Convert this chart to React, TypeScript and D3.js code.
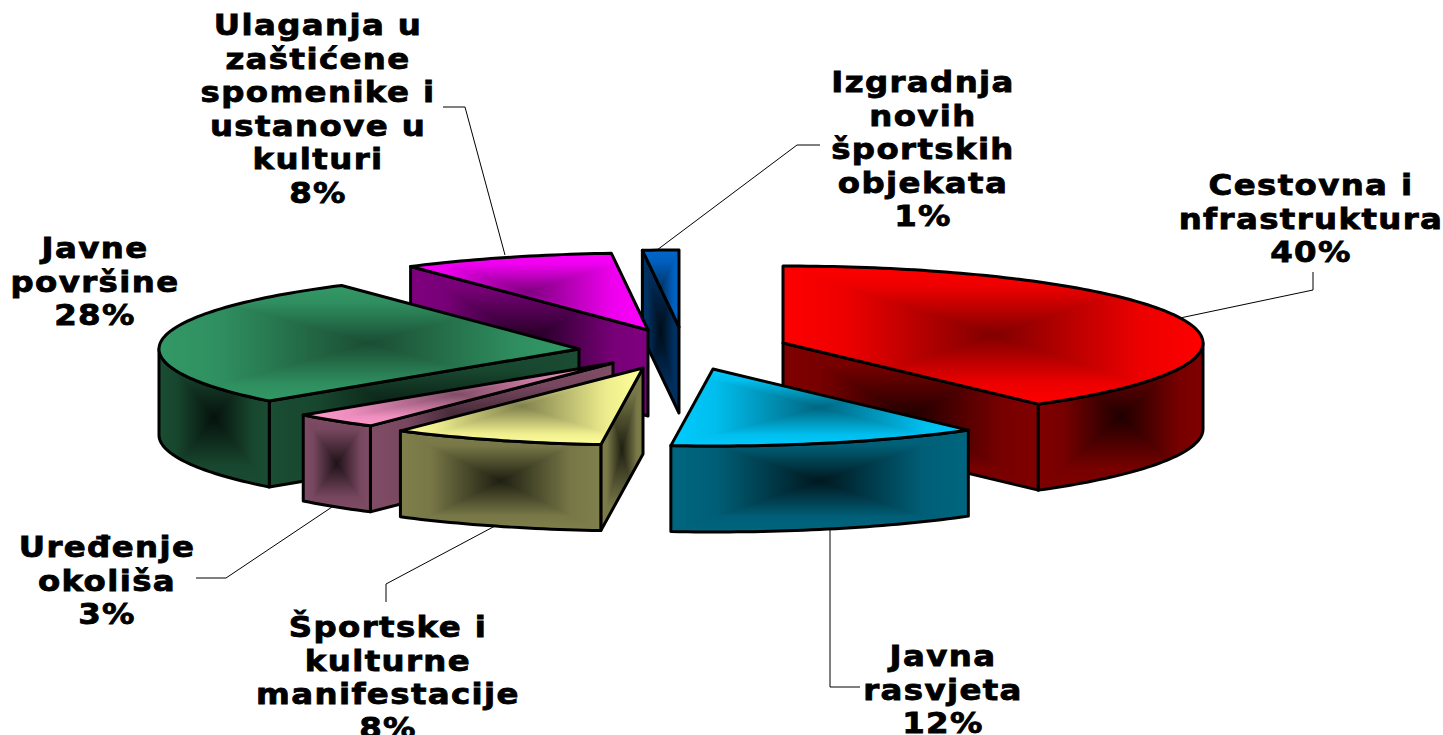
import React from "react";
import * as d3 from "d3";

const categories = [
  "Cestovna i|nfrastruktura",
  "Javna|rasvjeta",
  "Športske i|kulturne|manifestacije",
  "Uređenje|okoliša",
  "Javne|površine",
  "Ulaganja u|zaštićene|spomenike i|ustanove u|kulturi",
  "Izgradnja|novih|športskih|objekata",
];
const shares = [39.6, 12, 8.2, 3.4, 27.24, 8.17, 1.39];
const percentLabels = ["40%", "12%", "8%", "3%", "28%", "8%", "1%"];
const colors = ["#ff0000", "#00ccff", "#ffff99", "#ff99cc", "#339966", "#ff00ff", "#0066cc"];

// layout
const apexes: [number, number][] = [[783, 343], [713, 369], [643, 368], [613, 363], [579, 349], [648, 330], [679, 327]];
const labelCenters: [number, number][] = [[1311, 195], [943, 666], [388, 637], [107, 557], [95, 258], [318, 35], [923, 92]];
const leaders: [number, number][][] = [
  [[1180, 318], [1313, 290], [1313, 272]],
  [[830, 530], [830, 687], [860, 687]],
  [[495, 526], [386, 584], [386, 602]],
  [[332, 507], [226, 578], [196, 578]],
  [],
  [[505, 255], [465, 107], [443, 107]],
  [[657, 250], [797, 145], [820, 145]],
];
const drawOrder = [6, 5, 4, 3, 2, 0, 1];
const RX = 420, RY = 77, DEPTH = 86, LINE = 33.6, TEXT_STRETCH = 1.157;

const pieGen = d3.pie<number>().sort(null).startAngle(0).endAngle(2 * Math.PI);
const arcs = pieGen(shares);
const rgb = (c: string, k: number) => {
  const r = d3.rgb(c);
  return d3.rgb(r.r * k, r.g * k, r.b * k).formatHex();
};
const lineGen = d3.line();
const arcPts = (a: [number, number], t0: number, t1: number, dy = 0): [number, number][] => {
  const n = Math.max(2, Math.ceil(Math.abs(t1 - t0) / 0.02));
  return d3.range(n + 1).map((i) => {
    const t = t0 + ((t1 - t0) * i) / n;
    return [a[0] + RX * Math.sin(t), a[1] - RY * Math.cos(t) + dy] as [number, number];
  });
};

type Face = { id: string; pts: [number, number][]; kind: "top" | "side" };

function facesOf(i: number): Face[] {
  const a = apexes[i];
  const { startAngle: s, endAngle: e } = arcs[i];
  const out: Face[] = [];
  const plane = (t: number, key: string) => {
    const p: [number, number] = [a[0] + RX * Math.sin(t), a[1] - RY * Math.cos(t)];
    out.push({
      id: `${i}-${key}`,
      kind: "side",
      pts: [a, p, [p[0], p[1] + DEPTH], [a[0], a[1] + DEPTH]],
    });
  };
  if (Math.cos(s - Math.PI / 2) < -1e-6) plane(s, "s");
  if (Math.cos(e + Math.PI / 2) < -1e-6) plane(e, "e");
  const c0 = Math.max(s, Math.PI / 2), c1 = Math.min(e, 1.5 * Math.PI);
  if (c1 > c0) {
    out.push({
      id: `${i}-c`,
      kind: "side",
      pts: [...arcPts(a, c0, c1), ...arcPts(a, c1, c0, DEPTH)],
    });
  }
  out.push({ id: `${i}-t`, kind: "top", pts: [a, ...arcPts(a, s, e)] });
  return out;
}

function FaceView({ f, sliceIdx }: { f: Face; sliceIdx: number }) {
  const xs = d3.extent(f.pts, (p) => p[0]) as [number, number];
  const ys = d3.extent(f.pts, (p) => p[1]) as [number, number];
  const cx = (xs[0] + xs[1]) / 2, cy = (ys[0] + ys[1]) / 2;
  const d = lineGen(f.pts) + "Z";
  const g = `${sliceIdx}-${f.kind}`;
  const tris: [string, string][] = [
    ["T", `M${xs[0]},${ys[0]}L${xs[1]},${ys[0]}L${cx},${cy}Z`],
    ["B", `M${xs[0]},${ys[1]}L${xs[1]},${ys[1]}L${cx},${cy}Z`],
    ["L", `M${xs[0]},${ys[0]}L${xs[0]},${ys[1]}L${cx},${cy}Z`],
    ["R", `M${xs[1]},${ys[0]}L${xs[1]},${ys[1]}L${cx},${cy}Z`],
  ];
  return (
    <g>
      <clipPath id={`clip-${f.id}`}><path d={d} /></clipPath>
      <g clipPath={`url(#clip-${f.id})`}>
        {tris.map(([k, td]) => (
          <path key={k} d={td} fill={`url(#grad-${g}-${k})`} shapeRendering="crispEdges" />
        ))}
      </g>
      <path d={d} fill="none" stroke="#000" strokeWidth={3} strokeLinejoin="round" />
    </g>
  );
}

function Grads() {
  const dirs: [string, number, number, number, number][] = [
    ["T", 0, 0, 0, 1], ["B", 0, 1, 0, 0], ["L", 0, 0, 1, 0], ["R", 1, 0, 0, 0],
  ];
  return (
    <defs>
      {colors.flatMap((c, i) =>
        (["top", "side"] as const).flatMap((kind) => {
          const edge = kind === "top" ? 1 : 0.5;
          const center = kind === "top" ? 0.5 : 0.12;
          return dirs.map(([k, x1, y1, x2, y2]) => (
            <linearGradient key={`${i}${kind}${k}`} id={`grad-${i}-${kind}-${k}`} x1={x1} y1={y1} x2={x2} y2={y2}>
              <stop offset="0" stopColor={rgb(c, edge)} />
              <stop offset="0.3" stopColor={rgb(c, edge * 0.93)} />
              <stop offset="1" stopColor={rgb(c, center)} />
            </linearGradient>
          ));
        })
      )}
    </defs>
  );
}

export default function App() {
  return (
    <svg width={1443} height={735} style={{ position: "absolute", left: 0, top: 0, background: "#fff" }}>
      <Grads />
      {leaders.map((l, i) =>
        l.length ? <path key={i} d={lineGen(l) ?? ""} fill="none" stroke="#000" strokeWidth={1} /> : null
      )}
      {drawOrder.map((i) => (
        <g key={i}>{facesOf(i).map((f) => <FaceView key={f.id} f={f} sliceIdx={i} />)}</g>
      ))}
      {categories.map((c, i) => {
        const lines = [...c.split("|"), percentLabels[i]];
        return (
          <text
            key={i}
            transform={`translate(${labelCenters[i][0]},${labelCenters[i][1]}) scale(${TEXT_STRETCH},1)`}
            textAnchor="middle"
            fontFamily="'DejaVu Sans'"
            fontWeight="bold"
            fontSize={28}
            letterSpacing={1.2}
            fill="#000"
            stroke="#000"
            strokeWidth={0.8}
          >
            {lines.map((t, j) => (
              <tspan key={j} x={0} y={j * LINE}>{t}</tspan>
            ))}
          </text>
        );
      })}
    </svg>
  );
}
